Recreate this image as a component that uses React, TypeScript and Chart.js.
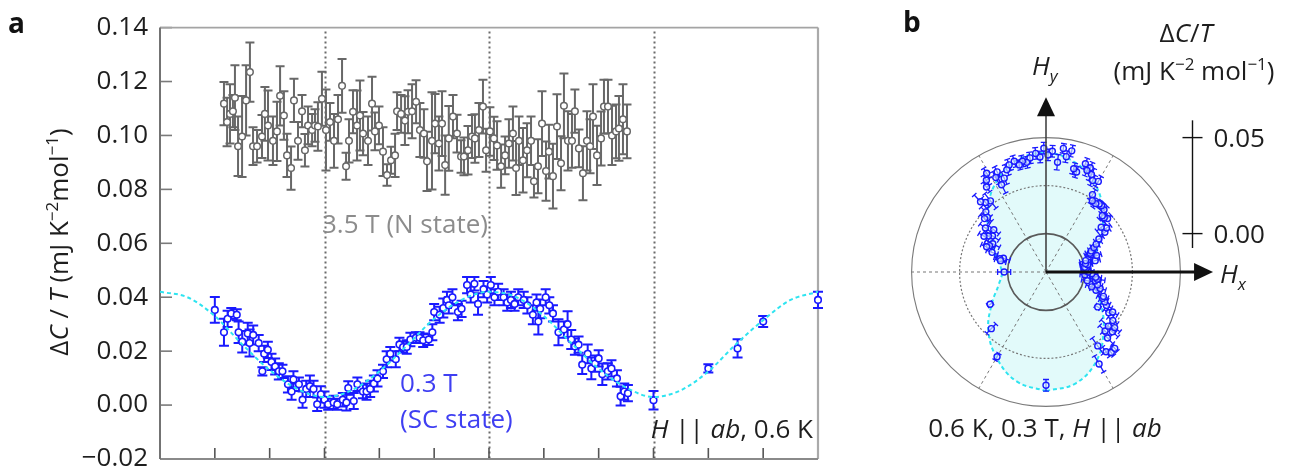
import React, { useEffect, useRef } from 'react';
import { Chart, registerables } from 'chart.js';
Chart.register(...registerables);

const FONT = '"Open Sans", "Noto Sans", sans-serif';

// ---------- Panel a: x = field angle (deg), y = ΔC/T (mJ K^-2 mol^-1) ----------
const xTickValues = [0, 30, 60, 90, 120, 150, 180, 210, 240, 270, 300, 330, 360];
const dottedTheta = [90, 180, 270];
const yTickValues = [-0.02, 0, 0.02, 0.04, 0.06, 0.08, 0.1, 0.12, 0.14];

// 3.5 T (N state)
const grayTheta = [
  35.0, 36.7, 38.3, 39.9, 41.0, 42.7, 44.9, 47.1, 49.2, 50.9,
  53.1, 55.8, 57.4, 59.1, 61.8, 64.0, 65.7, 67.8, 69.5, 71.7,
  73.3, 75.5, 77.7, 79.3, 81.0, 83.2, 84.8, 86.4, 88.6, 90.8,
  93.0, 95.2, 97.4, 99.6, 101.8, 103.4, 105.6, 107.8, 109.4, 111.1,
  113.8, 116.0, 117.6, 119.8, 122.0, 124.2, 126.4, 128.6, 129.7, 131.9,
  134.0, 135.7, 137.9, 140.1, 142.2, 144.4, 146.1, 148.8, 150.5, 152.6,
  154.3, 156.0, 158.0, 160.3, 162.5, 164.7, 166.3, 168.5, 170.7, 172.3,
  174.5, 176.7, 178.4, 180.5, 182.7, 184.4, 186.6, 188.8, 190.9, 193.1,
  194.8, 196.4, 198.6, 200.8, 203.0, 204.6, 206.8, 209.0, 211.2, 212.8,
  215.0, 217.2, 219.4, 221.0, 223.2, 225.4, 227.0, 229.2, 231.4, 233.6,
  235.3, 236.9, 239.1, 241.3, 242.9, 245.1, 247.3, 249.5, 251.1, 253.3,
  255.5,
];
const grayValue = [
  0.1118, 0.1050, 0.1080, 0.1090, 0.1140, 0.0960, 0.0996, 0.1130, 0.1235, 0.0960,
  0.0960, 0.0996, 0.1080, 0.1037, 0.0980, 0.1015, 0.1147, 0.1074, 0.0926, 0.0879,
  0.1130, 0.0980, 0.1090, 0.0945, 0.1037, 0.1020, 0.1037, 0.1033, 0.1136, 0.1020,
  0.1050, 0.0980, 0.1060, 0.1184, 0.0886, 0.0980, 0.1088, 0.1037, 0.1074, 0.1007,
  0.0980, 0.1118, 0.1015, 0.1037, 0.0940, 0.0853, 0.0908, 0.0926, 0.1090, 0.1080,
  0.1055, 0.1088, 0.1090, 0.1125, 0.1020, 0.1007, 0.0904, 0.0980, 0.1044, 0.0970,
  0.1044, 0.0890, 0.0989, 0.1070, 0.1007, 0.0922, 0.0922, 0.0945, 0.0996, 0.0989,
  0.1020, 0.1107, 0.0945, 0.1015, 0.0989, 0.0963, 0.0886, 0.0926, 0.0970, 0.1007,
  0.0879, 0.0980, 0.0908, 0.0945, 0.0980, 0.0830, 0.0886, 0.1044, 0.0868, 0.0940,
  0.0849, 0.1033, 0.0897, 0.1110, 0.0980, 0.0980, 0.1090, 0.0952, 0.0860, 0.0980,
  0.0960, 0.1070, 0.0926, 0.0989, 0.1107, 0.1107, 0.1000, 0.1015, 0.1026, 0.1060,
  0.1015,
];
const grayError = [
  0.008, 0.009, 0.011, 0.006, 0.012, 0.011, 0.015, 0.013, 0.011, 0.007,
  0.006, 0.008, 0.010, 0.013, 0.009, 0.011, 0.011, 0.009, 0.008, 0.008,
  0.008, 0.007, 0.006, 0.006, 0.007, 0.006, 0.006, 0.009, 0.010, 0.015,
  0.007, 0.010, 0.009, 0.010, 0.005, 0.008, 0.008, 0.013, 0.013, 0.008,
  0.009, 0.010, 0.007, 0.007, 0.009, 0.004, 0.005, 0.008, 0.007, 0.007,
  0.009, 0.008, 0.010, 0.008, 0.010, 0.009, 0.011, 0.018, 0.011, 0.010,
  0.012, 0.011, 0.012, 0.008, 0.007, 0.006, 0.007, 0.009, 0.008, 0.009,
  0.010, 0.010, 0.008, 0.009, 0.008, 0.009, 0.008, 0.007, 0.009, 0.010,
  0.010, 0.009, 0.012, 0.010, 0.009, 0.006, 0.010, 0.012, 0.011, 0.010,
  0.012, 0.012, 0.010, 0.012, 0.011, 0.010, 0.008, 0.007, 0.010, 0.011,
  0.010, 0.012, 0.011, 0.010, 0.010, 0.010, 0.011, 0.010, 0.012, 0.013,
  0.010,
];

// 0.3 T (SC state)
const blueTheta = [
  30, 35, 37, 39, 42, 43, 45, 48, 49, 51,
  54, 56, 57, 59, 61, 63, 65, 67, 70, 72,
  73, 76, 78, 80, 82, 84, 86, 88, 90, 92,
  95, 97, 100, 102, 103, 106, 108, 111, 113, 115,
  117, 119, 122, 124, 126, 129, 131, 133, 135, 137,
  140, 142, 144, 147, 149, 150, 153, 155, 157, 158,
  160, 163, 165, 168, 170, 172, 174, 177, 179, 181,
  183, 185, 188, 190, 192, 194, 196, 199, 201, 204,
  206, 207, 208, 211, 213, 215, 218, 221, 223, 225,
  227, 229, 231, 234, 236, 238, 240, 242, 245, 247,
  250, 252, 254, 256, 270, 300, 316, 330, 360,
];
const blueValue = [
  0.0353, 0.0270, 0.0320, 0.0340, 0.0335, 0.0270, 0.0235, 0.0265, 0.0230, 0.0260,
  0.0230, 0.0125, 0.0190, 0.0205, 0.0160, 0.0143, 0.0125, 0.0125, 0.0077, 0.0050,
  0.0095, 0.0077, 0.0020, 0.0060, 0.0070, 0.0060, 0.0003, 0.0040, 0.0020, 0.0003,
  0.0010, 0.0003, 0.0020, 0.0010, 0.0063, 0.0015, 0.0077, 0.0050, 0.0050, 0.0060,
  0.0080, 0.0099, 0.0125, 0.0170, 0.0190, 0.0170, 0.0225, 0.0215, 0.0215, 0.0243,
  0.0250, 0.0250, 0.0240, 0.0243, 0.0270, 0.0345, 0.0335, 0.0360, 0.0390, 0.0370,
  0.0400, 0.0345, 0.0357, 0.0445, 0.0410, 0.0450, 0.0375, 0.0430, 0.0410, 0.0445,
  0.0400, 0.0420, 0.0400, 0.0380, 0.0390, 0.0375, 0.0400, 0.0390, 0.0370, 0.0335,
  0.0380, 0.0310, 0.0357, 0.0400, 0.0370, 0.0340, 0.0270, 0.0280, 0.0300, 0.0243,
  0.0217, 0.0224, 0.0150, 0.0190, 0.0136, 0.0154, 0.0173, 0.0114, 0.0125, 0.0136,
  0.0099, 0.0033, 0.0050, 0.0044, 0.0018, 0.0136, 0.0210, 0.0310, 0.0390,
];
const blueError = [
  0.0048, 0.0050, 0.0030, 0.0020, 0.0020, 0.0040, 0.0040, 0.0040, 0.0050, 0.0035,
  0.0030, 0.0015, 0.0030, 0.0030, 0.0030, 0.0030, 0.0030, 0.0025, 0.0030, 0.0030,
  0.0030, 0.0025, 0.0030, 0.0030, 0.0040, 0.0030, 0.0025, 0.0030, 0.0030, 0.0020,
  0.0025, 0.0020, 0.0025, 0.0030, 0.0025, 0.0030, 0.0025, 0.0025, 0.0030, 0.0030,
  0.0030, 0.0030, 0.0025, 0.0030, 0.0025, 0.0030, 0.0025, 0.0020, 0.0025, 0.0025,
  0.0020, 0.0020, 0.0025, 0.0020, 0.0030, 0.0030, 0.0030, 0.0035, 0.0030, 0.0030,
  0.0030, 0.0030, 0.0030, 0.0030, 0.0030, 0.0025, 0.0040, 0.0030, 0.0030, 0.0030,
  0.0030, 0.0030, 0.0030, 0.0030, 0.0030, 0.0025, 0.0030, 0.0030, 0.0030, 0.0035,
  0.0030, 0.0048, 0.0035, 0.0030, 0.0030, 0.0030, 0.0048, 0.0030, 0.0048, 0.0035,
  0.0030, 0.0030, 0.0035, 0.0035, 0.0040, 0.0030, 0.0030, 0.0040, 0.0030, 0.0030,
  0.0030, 0.0035, 0.0030, 0.0030, 0.0034, 0.0015, 0.0034, 0.0020, 0.0030,
];

// fit curve (cyan dashed)
const fitTheta = [0, 15, 30, 45, 60, 75, 90, 105, 120, 135, 150, 165, 180, 195, 210, 225, 240, 255, 270, 285, 300, 315, 330, 345, 360];
const fitValue = [
  0.0420, 0.0400, 0.0330, 0.0225, 0.0130, 0.0060, 0.0030, 0.0055, 0.0125, 0.0220,
  0.0320, 0.0390, 0.0420, 0.0400, 0.0330, 0.0230, 0.0135, 0.0065, 0.0030, 0.0055,
  0.0125, 0.0225, 0.0315, 0.0390, 0.0420,
];

// ---------- Panel b: polar ----------
const polarCenterValue = -0.02; // ΔC/T value at the centre of the polar plot
const polarRings = [0, 0.025, 0.05];
const polarSpokes = [0, 60, 120, 180, 240, 300];
const scaleBarTicks = [0.05, 0];

const GRAY = '#686868';
const BLUE = '#1a1aff';
const CYAN = '#2ee4f0';
const FILL = '#e2fafa';
const TEXT = '#1e1e1e';

type Seg = { t: string; i?: boolean; b?: boolean; sup?: boolean; sub?: boolean };

function drawRich(ctx: CanvasRenderingContext2D, segs: Seg[], x: number, y: number, size: number, color: string, align: 'left' | 'center' | 'right') {
  const fontFor = (s: Seg) => `${s.i ? 'italic ' : ''}${s.b ? 'bold ' : ''}${s.sup || s.sub ? Math.round(size * 0.66) : size}px ${FONT}`;
  let total = 0;
  const widths = segs.map((s) => {
    ctx.font = fontFor(s);
    const w = ctx.measureText(s.t).width;
    total += w;
    return w;
  });
  let cx = align === 'left' ? x : align === 'center' ? x - total / 2 : x - total;
  ctx.fillStyle = color;
  ctx.textAlign = 'left';
  ctx.textBaseline = 'alphabetic';
  segs.forEach((s, k) => {
    ctx.font = fontFor(s);
    const dy = s.sup ? -size * 0.4 : s.sub ? size * 0.25 : 0;
    ctx.fillText(s.t, cx, y + dy);
    cx += widths[k];
  });
}

const errorBarPlugin = {
  id: 'errorBars',
  beforeDatasetDraw(chart: any, args: any) {
    const ds: any = chart.data.datasets[args.index];
    if (!ds.errorBars) return;
    const xs = chart.scales.x;
    const ys = chart.scales.y;
    const ctx: CanvasRenderingContext2D = chart.ctx;
    ctx.save();
    ctx.strokeStyle = ds.errorColor;
    ctx.lineWidth = ds.errorWidth;
    for (const bar of ds.errorBars) {
      const x1 = xs.getPixelForValue(bar.lo.x);
      const y1 = ys.getPixelForValue(bar.lo.y);
      const x2 = xs.getPixelForValue(bar.hi.x);
      const y2 = ys.getPixelForValue(bar.hi.y);
      const len = Math.hypot(x2 - x1, y2 - y1) || 1;
      const nx = (-(y2 - y1) / len) * ds.capHalf;
      const ny = ((x2 - x1) / len) * ds.capHalf;
      ctx.beginPath();
      ctx.moveTo(x1, y1);
      ctx.lineTo(x2, y2);
      ctx.moveTo(x1 - nx, y1 - ny);
      ctx.lineTo(x1 + nx, y1 + ny);
      ctx.moveTo(x2 - nx, y2 - ny);
      ctx.lineTo(x2 + nx, y2 + ny);
      ctx.stroke();
    }
    ctx.restore();
  },
};

const panelAFramePlugin = {
  id: 'panelAFrame',
  beforeDatasetsDraw(chart: any) {
    const { ctx, chartArea: a } = chart;
    const xs = chart.scales.x;
    const ys = chart.scales.y;
    ctx.save();
    // dotted verticals
    ctx.strokeStyle = '#6a6a6a';
    ctx.lineWidth = 2;
    ctx.setLineDash([2, 3]);
    for (const t of dottedTheta) {
      const px = Math.round(xs.getPixelForValue(t)) + 0.5;
      ctx.beginPath();
      ctx.moveTo(px, a.top + 4);
      ctx.lineTo(px, a.bottom);
      ctx.stroke();
    }
    ctx.setLineDash([]);
    // inward ticks
    ctx.strokeStyle = '#555';
    ctx.lineWidth = 1.6;
    for (const t of xTickValues) {
      const px = xs.getPixelForValue(t);
      ctx.beginPath();
      ctx.moveTo(px, a.bottom);
      ctx.lineTo(px, a.bottom - 11);
      ctx.stroke();
    }
    ctx.strokeStyle = '#7a7a7a';
    for (const v of yTickValues) {
      const py = ys.getPixelForValue(v);
      ctx.beginPath();
      ctx.moveTo(a.left, py);
      ctx.lineTo(a.left + 12, py);
      ctx.stroke();
    }
    // frame
    ctx.lineWidth = 1.6;
    ctx.strokeStyle = '#a4a4a4';
    ctx.beginPath();
    ctx.moveTo(a.left, a.top);
    ctx.lineTo(a.right, a.top);
    ctx.stroke();
    ctx.lineWidth = 2.2;
    ctx.strokeStyle = '#aaaaaa';
    ctx.beginPath();
    ctx.moveTo(a.right, a.top);
    ctx.lineTo(a.right, a.bottom);
    ctx.stroke();
    ctx.lineWidth = 2;
    ctx.strokeStyle = '#8a8a8a';
    ctx.beginPath();
    ctx.moveTo(a.left, a.bottom);
    ctx.lineTo(a.right, a.bottom);
    ctx.stroke();
    ctx.strokeStyle = '#737373';
    ctx.beginPath();
    ctx.moveTo(a.left, a.top);
    ctx.lineTo(a.left, a.bottom);
    ctx.stroke();
    ctx.restore();
  },
  afterDraw(chart: any) {
    const ctx: CanvasRenderingContext2D = chart.ctx;
    ctx.save();
    drawRich(ctx, [{ t: 'a', b: true }], 8, 33, 28, '#111', 'left');
    drawRich(ctx, [{ t: '3.5 T (N state)' }], 405, 233, 26, '#8c8c8c', 'center');
    drawRich(ctx, [{ t: '0.3 T' }], 400, 392, 26, '#3f3ff2', 'left');
    drawRich(ctx, [{ t: '(SC state)' }], 400, 428, 26, '#3f3ff2', 'left');
    drawRich(ctx, [{ t: 'H', i: true }, { t: ' || ' }, { t: 'ab', i: true }, { t: ', 0.6 K' }], 813, 438, 26, TEXT, 'right');
    ctx.translate(68, 242);
    ctx.rotate(-Math.PI / 2);
    drawRich(
      ctx,
      [{ t: 'Δ' }, { t: 'C', i: true }, { t: ' / ' }, { t: 'T', i: true }, { t: ' (mJ K' }, { t: '−2', sup: true }, { t: 'mol' }, { t: '−1', sup: true }, { t: ')' }],
      0, 0, 26, TEXT, 'center'
    );
    ctx.restore();
  },
};

function polarXY(theta: number, v: number) {
  const phi = ((theta - 90) * Math.PI) / 180;
  const r = v - polarCenterValue;
  return { x: r * Math.cos(phi), y: r * Math.sin(phi) };
}

const panelBPlugin = {
  id: 'panelBGrid',
  beforeDatasetsDraw(chart: any) {
    const ctx: CanvasRenderingContext2D = chart.ctx;
    const xs = chart.scales.x;
    const ys = chart.scales.y;
    const cx = xs.getPixelForValue(0);
    const cy = ys.getPixelForValue(0);
    const unit = xs.getPixelForValue(1) - cx;
    ctx.save();
    const outerR = (polarRings[2] - polarCenterValue) * unit;
    // spokes
    ctx.strokeStyle = '#777';
    ctx.lineWidth = 1;
    ctx.setLineDash([3, 3]);
    for (const s of polarSpokes) {
      const a = (s * Math.PI) / 180;
      ctx.beginPath();
      ctx.moveTo(cx, cy);
      ctx.lineTo(cx + outerR * Math.cos(a), cy - outerR * Math.sin(a));
      ctx.stroke();
    }
    // rings
    polarRings.forEach((v, k) => {
      const r = (v - polarCenterValue) * unit;
      ctx.beginPath();
      if (k === 1) {
        ctx.setLineDash([2, 2]);
        ctx.strokeStyle = '#777';
        ctx.lineWidth = 1.2;
      } else if (k === 0) {
        ctx.setLineDash([]);
        ctx.strokeStyle = '#5a5a5a';
        ctx.lineWidth = 1.6;
      } else {
        ctx.setLineDash([]);
        ctx.strokeStyle = '#7a7a7a';
        ctx.lineWidth = 1.1;
      }
      ctx.arc(cx, cy, r, 0, Math.PI * 2);
      ctx.stroke();
    });
    ctx.restore();
  },
  afterDatasetsDraw(chart: any) {
    const ctx: CanvasRenderingContext2D = chart.ctx;
    const xs = chart.scales.x;
    const ys = chart.scales.y;
    const cx = xs.getPixelForValue(0);
    const cy = ys.getPixelForValue(0);
    const tipY = ys.getPixelForValue(0.091);
    const tipX = xs.getPixelForValue(0.087);
    ctx.save();
    // Hy arrow
    ctx.strokeStyle = '#444';
    ctx.lineWidth = 1.6;
    ctx.beginPath();
    ctx.moveTo(cx, cy);
    ctx.lineTo(cx, tipY + 12);
    ctx.stroke();
    ctx.fillStyle = '#111';
    ctx.beginPath();
    ctx.moveTo(cx, tipY);
    ctx.lineTo(cx - 9, tipY + 19);
    ctx.lineTo(cx + 9, tipY + 19);
    ctx.closePath();
    ctx.fill();
    // Hx arrow
    ctx.strokeStyle = '#111';
    ctx.lineWidth = 3;
    ctx.beginPath();
    ctx.moveTo(cx, cy);
    ctx.lineTo(tipX - 12, cy);
    ctx.stroke();
    ctx.beginPath();
    ctx.moveTo(tipX, cy);
    ctx.lineTo(tipX - 19, cy - 9);
    ctx.lineTo(tipX - 19, cy + 9);
    ctx.closePath();
    ctx.fill();
    ctx.restore();
  },
  afterDraw(chart: any) {
    const ctx: CanvasRenderingContext2D = chart.ctx;
    const xs = chart.scales.x;
    const ys = chart.scales.y;
    ctx.save();
    // scale bar
    const bx = Math.round(xs.getPixelForValue(0.076)) + 0.5;
    ctx.strokeStyle = '#111';
    ctx.lineWidth = 1.4;
    ctx.beginPath();
    ctx.moveTo(bx, ys.getPixelForValue(0.079));
    ctx.lineTo(bx, ys.getPixelForValue(0.0125));
    ctx.stroke();
    for (const v of scaleBarTicks) {
      const py = ys.getPixelForValue(v - polarCenterValue);
      ctx.beginPath();
      ctx.moveTo(bx - 10, py);
      ctx.lineTo(bx + 10, py);
      ctx.stroke();
      drawRich(ctx, [{ t: v.toFixed(2) }], bx + 21, py + 9, 26, TEXT, 'left');
    }
    drawRich(ctx, [{ t: 'b', b: true }], 23, 32, 28, '#111', 'left');
    drawRich(ctx, [{ t: 'Δ' }, { t: 'C', i: true }, { t: '/' }, { t: 'T', i: true }], 306, 42, 26, TEXT, 'center');
    drawRich(ctx, [{ t: '(mJ K' }, { t: '−2', sup: true }, { t: ' mol' }, { t: '−1', sup: true }, { t: ')' }], 314, 80, 26, TEXT, 'center');
    drawRich(ctx, [{ t: 'H', i: true }, { t: 'y', i: true, sub: true }], 152, 75, 26, TEXT, 'left');
    drawRich(ctx, [{ t: 'H', i: true }, { t: 'x', i: true, sub: true }], 340, 283, 26, TEXT, 'left');
    drawRich(ctx, [{ t: '0.6 K, 0.3 T, ' }, { t: 'H', i: true }, { t: ' || ' }, { t: 'ab', i: true }], 165, 437, 26, TEXT, 'center');
    ctx.restore();
  },
};

function fmtTick(v: number) {
  const s = Math.abs(v).toFixed(2);
  return v < -1e-9 ? '\u2212' + s : s;
}

export default function App() {
  const refA = useRef<HTMLCanvasElement>(null);
  const refB = useRef<HTMLCanvasElement>(null);

  useEffect(() => {
    const grayData = grayTheta.map((t, i) => ({ x: t, y: grayValue[i] }));
    const grayBars = grayTheta.map((t, i) => ({ lo: { x: t, y: grayValue[i] - grayError[i] }, hi: { x: t, y: grayValue[i] + grayError[i] } }));
    const blueData = blueTheta.map((t, i) => ({ x: t, y: blueValue[i] }));
    const blueBars = blueTheta.map((t, i) => ({ lo: { x: t, y: blueValue[i] - blueError[i] }, hi: { x: t, y: blueValue[i] + blueError[i] } }));
    const fitData = fitTheta.map((t, i) => ({ x: t, y: fitValue[i] }));

    const chartA = new Chart(refA.current as HTMLCanvasElement, {
      type: 'scatter',
      data: {
        datasets: [
          {
            type: 'line',
            data: fitData,
            borderColor: CYAN,
            borderWidth: 2,
            borderDash: [4, 3],
            pointRadius: 0,
            cubicInterpolationMode: 'monotone',
            fill: false,
            order: 0,
          } as any,
          {
            data: blueData,
            pointRadius: 3.3,
            pointBorderWidth: 1.6,
            borderColor: BLUE,
            backgroundColor: '#ffffff',
            clip: 8,
            order: 1,
            errorBars: blueBars,
            errorColor: BLUE,
            errorWidth: 2,
            capHalf: 5,
          } as any,
          {
            data: grayData,
            pointRadius: 3.3,
            pointBorderWidth: 1.5,
            borderColor: GRAY,
            backgroundColor: '#ffffff',
            clip: 8,
            order: 2,
            errorBars: grayBars,
            errorColor: GRAY,
            errorWidth: 2,
            capHalf: 4.5,
          } as any,
        ],
      },
      options: {
        responsive: false,
        animation: false,
        events: [],
        layout: { padding: { left: 0, top: 24, right: 62, bottom: 41 } },
        plugins: { legend: { display: false }, tooltip: { enabled: false } },
        scales: {
          x: { type: 'linear', min: 0, max: 360, display: false, ticks: { stepSize: 30 } },
          y: {
            type: 'linear',
            min: -0.02,
            max: 0.14,
            afterFit: (s: any) => {
              s.width = 160;
            },
            grid: { display: false, drawTicks: false },
            border: { display: false },
            ticks: {
              stepSize: 0.02,
              padding: 12,
              color: TEXT,
              font: { family: FONT, size: 26 },
              callback: (v: any) => fmtTick(Number(v)),
            },
          },
        },
      } as any,
      plugins: [errorBarPlugin, panelAFramePlugin],
    });

    const polarFit = fitTheta.map((t, i) => polarXY(t, fitValue[i]));
    const polarBlue = blueTheta.map((t, i) => polarXY(t, blueValue[i]));
    const polarBars = blueTheta.map((t, i) => ({ lo: polarXY(t, blueValue[i] - blueError[i]), hi: polarXY(t, blueValue[i] + blueError[i]) }));

    const chartB = new Chart(refB.current as HTMLCanvasElement, {
      type: 'scatter',
      data: {
        datasets: [
          {
            type: 'line',
            data: polarFit,
            borderColor: CYAN,
            borderWidth: 2,
            borderDash: [4, 3],
            pointRadius: 0,
            tension: 0.4,
            fill: 'shape',
            backgroundColor: FILL,
            order: 2,
          } as any,
          {
            data: polarBlue,
            pointRadius: 3,
            pointBorderWidth: 1.4,
            borderColor: BLUE,
            backgroundColor: 'rgba(226,250,250,0.6)',
            clip: false,
            order: 1,
            errorBars: polarBars,
            errorColor: BLUE,
            errorWidth: 1.3,
            capHalf: 3,
          } as any,
        ],
      },
      options: {
        responsive: false,
        animation: false,
        events: [],
        layout: { padding: { left: 12.4, top: 118.4, right: 107.4, bottom: 43.4 } },
        plugins: { legend: { display: false }, tooltip: { enabled: false }, filler: { drawTime: 'beforeDraw' } },
        scales: {
          x: { type: 'linear', min: -0.08, max: 0.08, display: false },
          y: { type: 'linear', min: -0.08, max: 0.08, display: false },
        },
      } as any,
      plugins: [errorBarPlugin, panelBPlugin],
    });

    return () => {
      chartA.destroy();
      chartB.destroy();
    };
  }, []);

  return (
    <div style={{ position: 'absolute', left: 0, top: 0, width: 1307, height: 469, overflow: 'hidden', background: '#fff' }}>
      <canvas ref={refA} width={880} height={500} style={{ position: 'absolute', left: 0, top: 0 }} />
      <canvas ref={refB} width={427} height={469} style={{ position: 'absolute', left: 880, top: 0 }} />
    </div>
  );
}
